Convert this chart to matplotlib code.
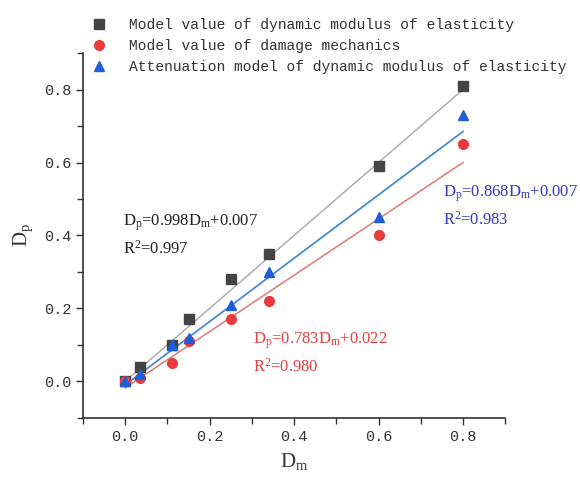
import matplotlib
matplotlib.use("Agg")
import matplotlib.pyplot as plt
from matplotlib.ticker import MultipleLocator, FormatStrFormatter

# measured points
dm = [0.0, 0.035, 0.11, 0.15, 0.25, 0.34, 0.60, 0.80]
dp_elastic = [0.0, 0.04, 0.10, 0.17, 0.28, 0.35, 0.59, 0.81]
dp_damage = [0.0, 0.01, 0.05, 0.11, 0.17, 0.22, 0.40, 0.65]
dp_atten = [0.0, 0.02, 0.10, 0.12, 0.21, 0.30, 0.45, 0.73]

# fitted lines, endpoints
fit_x = [0.0, 0.80]
fit_elastic = [0.0, 0.80]
fit_damage = [-0.018, 0.60]
fit_atten = [-0.01, 0.685]

labels = ["Model value of dynamic modulus of elasticity",
          "Model value of damage mechanics",
          "Attenuation model of dynamic modulus of elasticity"]

mono = "Liberation Mono"
serif = "Liberation Serif"

fig = plt.figure(figsize=(5.8, 4.83), dpi=100)
ax = fig.add_axes([0.143, 0.135, 0.728, 0.755])

ax.plot(fit_x, fit_elastic, color="#a8a8a8", lw=1.0, zorder=1)
ax.plot(fit_x, fit_atten, color="#4a88d8", lw=1.3, zorder=1)
ax.plot(fit_x, fit_damage, color="#e07878", lw=1.1, zorder=1)

ax.plot(dm, dp_elastic, ls="none", marker="s", ms=6.5, color="#444444", label=labels[0], zorder=3)
ax.plot(dm, dp_damage, ls="none", marker="o", ms=7, color="#e83c3c", label=labels[1], zorder=3)
ax.plot(dm, dp_atten, ls="none", marker="^", ms=7.5, color="#1f5ed8", label=labels[2], zorder=3)

ax.set_xlim(-0.1, 0.9)
ax.set_ylim(-0.1, 0.9)
ax.xaxis.set_minor_locator(MultipleLocator(0.1))
ax.yaxis.set_minor_locator(MultipleLocator(0.1))
ax.set_xticks([0.0, 0.2, 0.4, 0.6, 0.8])
ax.set_yticks([0.0, 0.2, 0.4, 0.6, 0.8])
ax.xaxis.set_major_formatter(FormatStrFormatter("%.1f"))
ax.yaxis.set_major_formatter(FormatStrFormatter("%.1f"))
ax.tick_params(which="major", length=5, width=1, color="#333333", labelsize=11, labelcolor="#333333")
ax.tick_params(which="minor", length=4, width=1, color="#333333")
for t in ax.get_xticklabels() + ax.get_yticklabels():
    t.set_fontfamily(mono)

for s in ["top", "right"]:
    ax.spines[s].set_visible(False)
for s in ["left", "bottom"]:
    ax.spines[s].set_linewidth(1.2)
    ax.spines[s].set_color("#333333")

ax.set_xlabel(r"$\mathregular{D_m}$", fontsize=15, family=serif, color="#333333", labelpad=5)
ax.set_ylabel(r"$\mathregular{D_p}$", fontsize=15, family=serif, color="#333333", labelpad=6)

ax.legend(loc="upper left", bbox_to_anchor=(0.008, 1.112), frameon=False,
          prop={"family": mono, "size": 10.5}, handletextpad=1.5,
          labelspacing=0.48, handlelength=1.0, borderaxespad=0.0,
          labelcolor="#333333")

fs = 12
ax.text(-0.005, 0.40, r"$\mathregular{D_p}$=0.998$\mathregular{D_m}$+0.007" + "\n" + r"$\mathregular{R^2}$=0.997",
        family=serif, fontsize=fs, color="#222222", linespacing=1.5, va="center")
ax.text(0.752, 0.48, r"$\mathregular{D_p}$=0.868$\mathregular{D_m}$+0.007" + "\n" + r"$\mathregular{R^2}$=0.983",
        family=serif, fontsize=fs, color="#3838c0", linespacing=1.5, va="center")
ax.text(0.303, 0.077, r"$\mathregular{D_p}$=0.783$\mathregular{D_m}$+0.022" + "\n" + r"$\mathregular{R^2}$=0.980",
        family=serif, fontsize=fs, color="#e04040", linespacing=1.5, va="center")

fig.savefig("out.png", dpi=100)
